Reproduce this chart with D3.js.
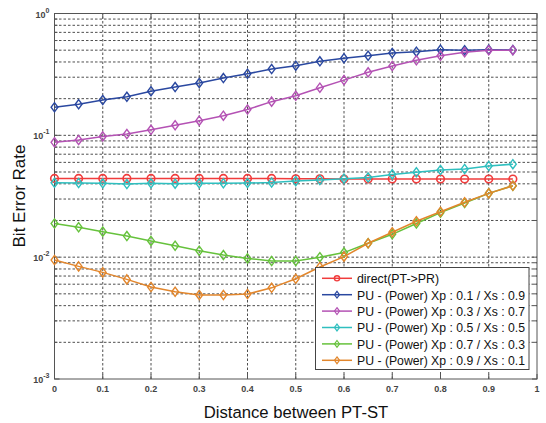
<!DOCTYPE html>
<html>
<head>
<meta charset="utf-8">
<script src="https://cdn.jsdelivr.net/npm/d3@7"></script>
<style>
  body { margin: 0; background: #fff; }
  svg { font-family: "Liberation Sans", Arial, sans-serif; }
</style>
</head>
<body>
<div class="canva"></div>
<script>
const width = 546, height = 423;
const margin = { left: 54.5, right: 9, top: 13.5, bottom: 44 };

// data
const distance = [0, 0.05, 0.1, 0.15, 0.2, 0.25, 0.3, 0.35, 0.4, 0.45, 0.5, 0.55, 0.6, 0.65, 0.7, 0.75, 0.8, 0.85, 0.9, 0.95];
const direct   = [0.0443, 0.0443, 0.0443, 0.0443, 0.0443, 0.0443, 0.0443, 0.0443, 0.0443, 0.0443, 0.0440, 0.0440, 0.0438, 0.0438, 0.0438, 0.0438, 0.0438, 0.0438, 0.0438, 0.0438];
const xp01 = [0.170, 0.180, 0.195, 0.207, 0.230, 0.249, 0.269, 0.295, 0.320, 0.350, 0.373, 0.405, 0.429, 0.450, 0.474, 0.486, 0.505, 0.500, 0.505, 0.502];
const xp03 = [0.0876, 0.0915, 0.098, 0.1025, 0.111, 0.121, 0.132, 0.145, 0.163, 0.189, 0.211, 0.246, 0.284, 0.329, 0.371, 0.413, 0.450, 0.480, 0.499, 0.500];
const xp05 = [0.0408, 0.0406, 0.0404, 0.0398, 0.0404, 0.0401, 0.0404, 0.0404, 0.0406, 0.0410, 0.0421, 0.0430, 0.0441, 0.0450, 0.0478, 0.0498, 0.0519, 0.0530, 0.0560, 0.0580];
const xp07 = [0.0189, 0.0176, 0.0162, 0.0149, 0.0136, 0.0124, 0.0113, 0.0104, 0.00977, 0.00929, 0.0093, 0.0100, 0.0109, 0.0130, 0.0154, 0.0189, 0.0232, 0.0278, 0.0334, 0.0386];
const xp09 = [0.00947, 0.0084, 0.0075, 0.00657, 0.00569, 0.0052, 0.00489, 0.00489, 0.00498, 0.0056, 0.00665, 0.0083, 0.0101, 0.0130, 0.0160, 0.0197, 0.0236, 0.0282, 0.0334, 0.0386];

const seriesNames = ["direct(PT->PR)", "PU - (Power) Xp : 0.1 / Xs : 0.9", "PU - (Power) Xp : 0.3 / Xs : 0.7",
                     "PU - (Power) Xp : 0.5 / Xs : 0.5", "PU - (Power) Xp : 0.7 / Xs : 0.3", "PU - (Power) Xp : 0.9 / Xs : 0.1"];
const seriesValues = [direct, xp01, xp03, xp05, xp07, xp09];
const seriesColors = ["#f03c3c", "#2a48a0", "#b452b4", "#2fbfbf", "#66c23c", "#e2862c"];
const xTicks = [0, 0.1, 0.2, 0.3, 0.4, 0.5, 0.6, 0.7, 0.8, 0.9, 1];
const yDecades = [0, -1, -2, -3];

const svg = d3.select(".canva").append("svg")
  .attr("width", width).attr("height", height);

const x = d3.scaleLinear().domain([0, 1]).range([margin.left, width - margin.right]);
const y = d3.scaleLog().domain([1e-3, 1]).range([height - margin.bottom, margin.top]);

const x0 = x(0), x1 = x(1), y0 = y(1e-3), y1 = y(1);

// minor log values
const minorVals = [];
for (let e = -3; e < 0; e++) for (let m = 2; m <= 9; m++) minorVals.push(m * Math.pow(10, e));

const grid = svg.append("g").attr("stroke", "#222").attr("stroke-width", 0.8).attr("stroke-dasharray", "2.5,2");
grid.selectAll(".gx").data(xTicks.slice(1, -1)).enter().append("line")
  .attr("x1", d => x(d)).attr("x2", d => x(d)).attr("y1", y0).attr("y2", y1);
grid.selectAll(".gy").data(minorVals.concat([1e-2, 1e-1])).enter().append("line")
  .attr("x1", x0).attr("x2", x1).attr("y1", d => y(d)).attr("y2", d => y(d));

// box and ticks
const axisG = svg.append("g").attr("stroke", "#555").attr("stroke-width", 1).attr("fill", "none");
axisG.append("rect").attr("x", x0).attr("y", y1).attr("width", x1 - x0).attr("height", y0 - y1);
axisG.selectAll(".tb").data(xTicks).enter().append("path")
  .attr("d", d => `M${x(d)},${y0}v-5M${x(d)},${y1}v5`);
axisG.selectAll(".ty").data(yDecades).enter().append("path")
  .attr("d", d => `M${x0},${y(Math.pow(10, d))}h5M${x1},${y(Math.pow(10, d))}h-5`);
axisG.selectAll(".tm").data(minorVals).enter().append("path")
  .attr("d", d => `M${x0},${y(d)}h3M${x1},${y(d)}h-3`);

// tick labels
svg.append("g").selectAll("text").data(xTicks).enter().append("text")
  .attr("x", d => x(d)).attr("y", y0 + 13)
  .attr("text-anchor", "middle").attr("font-size", 9).attr("font-weight", "bold").attr("fill", "#444")
  .text(d => d);

const yl = svg.append("g").selectAll("text").data(yDecades).enter().append("text")
  .attr("x", x0 - 5).attr("y", d => y(Math.pow(10, d)) + 4)
  .attr("text-anchor", "end").attr("font-size", 9).attr("font-weight", "bold").attr("fill", "#444");
yl.append("tspan").text("10");
yl.append("tspan").attr("dy", -5).attr("font-size", 7).text(d => d);

// axis titles
svg.append("text").attr("x", 296).attr("y", 418)
  .attr("text-anchor", "middle").attr("font-size", 16.7).attr("fill", "#111")
  .text("Distance between PT-ST");
svg.append("text").attr("transform", `translate(25,196) rotate(-90)`)
  .attr("text-anchor", "middle").attr("font-size", 17).attr("fill", "#111")
  .text("Bit Error Rate");

// series
const line = d3.line().x((d, i) => x(distance[i])).y(d => y(d));
const diamond = (cx, cy, w, h) => `M${cx},${cy - h}L${cx + w},${cy}L${cx},${cy + h}L${cx - w},${cy}Z`;

seriesValues.forEach((vals, si) => {
  const g = svg.append("g");
  g.append("path").datum(vals).attr("d", line)
    .attr("fill", "none").attr("stroke", seriesColors[si]).attr("stroke-width", 1.5);
  if (si === 0) {
    g.selectAll("circle").data(vals).enter().append("circle")
      .attr("cx", (d, i) => x(distance[i])).attr("cy", d => y(d)).attr("r", 3.8)
      .attr("fill", "none").attr("stroke", seriesColors[si]).attr("stroke-width", 1.6);
  } else {
    g.selectAll(".mk").data(vals).enter().append("path")
      .attr("d", (d, i) => diamond(x(distance[i]), y(d), 3.4, 4.6))
      .attr("fill", "none").attr("stroke", seriesColors[si]).attr("stroke-width", 1.4);
  }
});

// legend
const lg = svg.append("g");
const lx = 315.5, ly = 267.5, lw = 213.5, lh = 102;
lg.append("rect").attr("x", lx).attr("y", ly).attr("width", lw).attr("height", lh)
  .attr("fill", "#fff").attr("stroke", "#444").attr("stroke-width", 1);
seriesNames.forEach((name, i) => {
  const yy = 278.3 + i * 16.4;
  const c = seriesColors[i];
  lg.append("line").attr("x1", 322).attr("x2", 352).attr("y1", yy).attr("y2", yy)
    .attr("stroke", c).attr("stroke-width", 1.5);
  if (i === 0) {
    lg.append("circle").attr("cx", 337).attr("cy", yy).attr("r", 2.6)
      .attr("fill", "none").attr("stroke", c).attr("stroke-width", 1.4);
  } else {
    lg.append("path").attr("d", diamond(337, yy, 2.5, 3.4))
      .attr("fill", "none").attr("stroke", c).attr("stroke-width", 1.2);
  }
  lg.append("text").attr("x", 357).attr("y", yy + 4.8).attr("font-size", 13)
    .attr("textLength", i === 0 ? 82 : 168).attr("lengthAdjust", "spacingAndGlyphs")
    .attr("fill", "#111").text(name);
});
</script>
</body>
</html>
